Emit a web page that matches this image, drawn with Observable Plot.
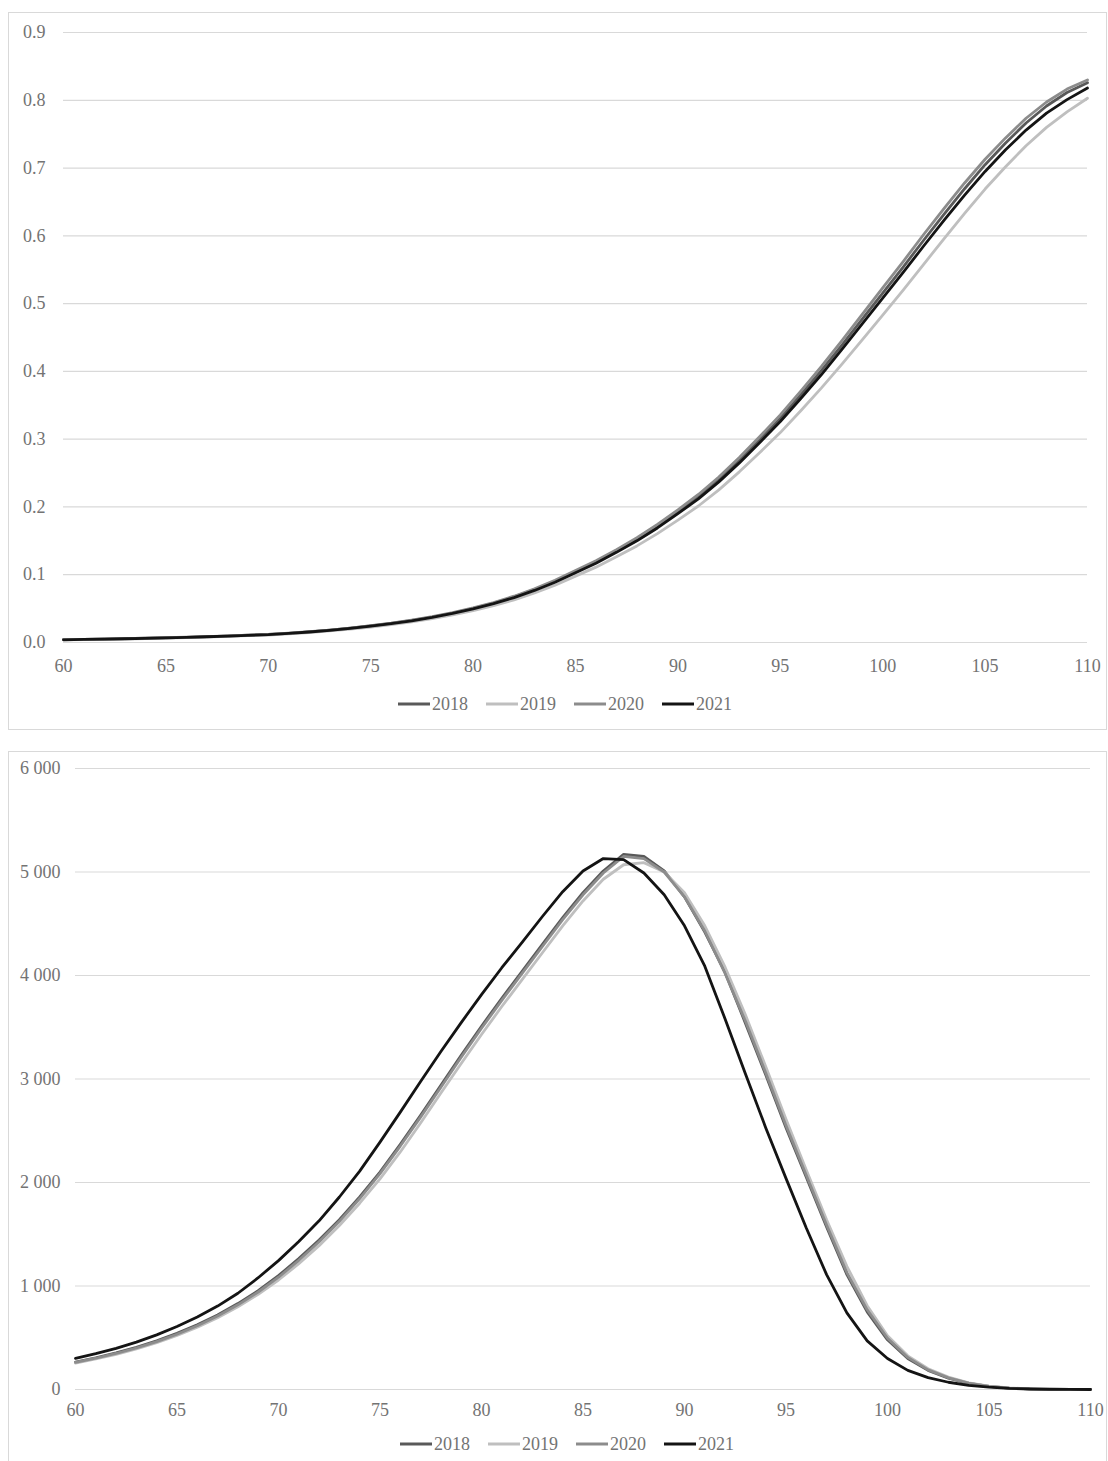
<!DOCTYPE html>
<html>
<head>
<meta charset="utf-8">
<script src="https://cdn.jsdelivr.net/npm/d3@7"></script>
<script src="https://cdn.jsdelivr.net/npm/@observablehq/plot@0.6"></script>
<style>
  html, body { margin: 0; padding: 0; background: #fff; }
  body { width: 1108px; height: 1461px; position: relative; overflow: hidden; font-family: 'Liberation Serif', serif; }
  .box { position: absolute; border: 1px solid #d9d9d9; box-sizing: border-box; background: #fff; }
  .chart { position: absolute; }
  .legend { position: absolute; display: flex; justify-content: center; align-items: center; font-family: 'Liberation Serif', serif; font-size: 18px; color: #737373; }
  .legend .item { display: flex; align-items: center; margin: 0 9px; }
  .legend svg { margin-right: 2px; }
</style>
</head>
<body>
<div class="box" style="left:8px; top:12px; width:1099px; height:718px;"></div>
<div class="box" style="left:8px; top:751px; width:1099px; height:730px;"></div>
<div id="c1" class="chart" style="left:8px; top:12px;"></div>
<div id="l1" class="legend" style="left:16px; top:692px; width:1098px; height:24px;"></div>
<div id="c2" class="chart" style="left:8px; top:751px;"></div>
<div id="l2" class="legend" style="left:18px; top:1432px; width:1098px; height:24px;"></div>
<script>
const years = ["2018", "2019", "2020", "2021"];
const colors = ["#595959", "#bfbfbf", "#8c8c8c", "#141414"];
const ages = [60,61,62,63,64,65,66,67,68,69,70,71,72,73,74,75,76,77,78,79,80,81,82,83,84,85,86,87,88,89,90,91,92,93,94,95,96,97,98,99,100,101,102,103,104,105,106,107,108,109,110];
const xTicks = [60,65,70,75,80,85,90,95,100,105,110];
const yTicksTop = [0,0.1,0.2,0.3,0.4,0.5,0.6,0.7,0.8,0.9];
const yTicksBottom = [0,1000,2000,3000,4000,5000,6000];

// Top chart: probability of dying (qx)
const qx2018 = [.0041,.0046,.0051,.0056,.0063,.0070,.0077,.0086,.0095,.0107,.0118,.0136,.0157,.0182,.0210,.0244,.0281,.0325,.0376,.0435,.0503,.0582,.0673,.0780,.0903,.1045,.1188,.1350,.1523,.1715,.1930,.2152,.2405,.2690,.2995,.3310,.3655,.4010,.4385,.4770,.5155,.5540,.5935,.6320,.6695,.7050,.7370,.7665,.7915,.8115,.8260];
const qx2019 = [.0038,.0043,.0047,.0052,.0059,.0066,.0072,.0081,.0089,.0100,.0110,.0127,.0147,.0170,.0197,.0228,.0263,.0304,.0352,.0407,.0470,.0544,.0630,.0730,.0846,.0979,.1112,.1264,.1425,.1606,.1805,.2014,.2252,.2518,.2803,.3097,.3420,.3753,.4104,.4465,.4830,.5200,.5580,.5960,.6330,.6690,.7020,.7330,.7600,.7830,.8030];
const qx2020 = [.0041,.0046,.0052,.0057,.0064,.0071,.0078,.0088,.0097,.0108,.0120,.0138,.0160,.0184,.0213,.0247,.0285,.0330,.0381,.0441,.0510,.0590,.0683,.0791,.0917,.1061,.1205,.1370,.1545,.1741,.1957,.2184,.2441,.2730,.3039,.3358,.3708,.4069,.4450,.4841,.5232,.5620,.6020,.6405,.6780,.7130,.7445,.7735,.7975,.8165,.8300];
const qx2021 = [.0040,.0045,.0050,.0055,.0062,.0069,.0076,.0085,.0094,.0105,.0116,.0134,.0155,.0179,.0207,.0240,.0277,.0320,.0370,.0428,.0495,.0573,.0663,.0768,.0890,.1030,.1170,.1330,.1500,.1690,.1900,.2120,.2370,.2650,.2950,.3260,.3600,.3950,.4320,.4700,.5080,.5460,.5850,.6230,.6600,.6950,.7270,.7560,.7810,.8010,.8180];

// Bottom chart: number of deaths (dx)
const dx2018 = [265,306,353,407,470,542,625,720,830,955,1100,1265,1445,1640,1860,2100,2370,2650,2940,3230,3510,3780,4040,4300,4560,4800,5010,5170,5150,5010,4760,4420,4030,3540,3040,2530,2050,1570,1110,750,480,300,185,110,60,30,14,6,3,1,0];
const dx2019 = [255,295,340,392,452,522,602,694,800,920,1058,1215,1390,1585,1800,2035,2295,2575,2865,3150,3430,3700,3960,4220,4480,4720,4930,5070,5090,5000,4800,4480,4080,3620,3120,2610,2120,1640,1190,810,520,325,200,120,65,33,15,7,3,1,0];
const dx2020 = [262,302,348,401,463,534,616,710,818,942,1085,1248,1428,1625,1845,2085,2352,2632,2920,3210,3490,3760,4020,4280,4540,4780,4990,5150,5130,5000,4760,4430,4020,3560,3060,2550,2070,1590,1130,770,495,310,190,113,62,31,14,6,3,1,0];
const dx2021 = [300,346,398,458,528,608,700,806,930,1080,1245,1430,1630,1860,2110,2390,2680,2975,3265,3545,3815,4075,4320,4570,4810,5010,5130,5120,4990,4780,4480,4090,3580,3050,2530,2040,1560,1110,740,470,300,185,115,70,40,22,11,5,2,1,0];

function rowsOf(series) {
  const out = [];
  years.forEach((y, i) => series[i].forEach((v, j) => out.push({year: y, age: ages[j], v})));
  return out;
}
const qRows = rowsOf([qx2018, qx2019, qx2020, qx2021]);
const dRows = rowsOf([dx2018, dx2019, dx2020, dx2021]);

const spaceFmt = d3.formatLocale({decimal: ".", thousands: " ", grouping: [3], currency: ["", ""]}).format(",");
const baseStyle = {fontFamily: "'Liberation Serif', serif", fontSize: "18px", color: "#737373", background: "transparent", overflow: "visible"};

const chartTop = Plot.plot({
  width: 1098, height: 680,
  marginLeft: 55, marginRight: 19, marginTop: 20, marginBottom: 50,
  style: baseStyle,
  x: {domain: [60, 110]},
  y: {domain: [0, 0.9]},
  color: {domain: years, range: colors},
  marks: [
    Plot.gridY(yTicksTop, {stroke: "#d9d9d9", strokeOpacity: 1, strokeWidth: 1.2}),
    Plot.axisY(yTicksTop, {tickSize: 0, tickPadding: 18, tickFormat: d3.format(".1f"), label: null, fill: "#737373"}),
    Plot.axisX(xTicks, {tickSize: 0, tickPadding: 17, tickFormat: d => String(d), label: null, fill: "#737373"}),
    Plot.line(qRows, {x: "age", y: "v", z: "year", stroke: "year", strokeWidth: 2.8})
  ]
});
document.getElementById("c1").appendChild(chartTop);

const chartBottom = Plot.plot({
  width: 1098, height: 668,
  marginLeft: 67, marginRight: 16, marginTop: 17, marginBottom: 30,
  style: baseStyle,
  x: {domain: [60, 110]},
  y: {domain: [0, 6000]},
  color: {domain: years, range: colors},
  marks: [
    Plot.gridY(yTicksBottom, {stroke: "#d9d9d9", strokeOpacity: 1, strokeWidth: 1.2}),
    Plot.axisY(yTicksBottom, {tickSize: 0, tickPadding: 15, tickFormat: spaceFmt, label: null, fill: "#737373"}),
    Plot.axisX(xTicks, {tickSize: 0, tickPadding: 14, tickFormat: d => String(d), label: null, fill: "#737373"}),
    Plot.line(dRows, {x: "age", y: "v", z: "year", stroke: "year", strokeWidth: 2.8})
  ]
});
document.getElementById("c2").appendChild(chartBottom);

function legend(id) {
  const el = document.getElementById(id);
  years.forEach((y, i) => {
    const item = document.createElement("div");
    item.className = "item";
    item.innerHTML = `<svg width="32" height="10"><line x1="0" x2="32" y1="5" y2="5" stroke="${colors[i]}" stroke-width="3"/></svg><span>${y}</span>`;
    el.appendChild(item);
  });
}
legend("l1");
legend("l2");
</script>
</body>
</html>
